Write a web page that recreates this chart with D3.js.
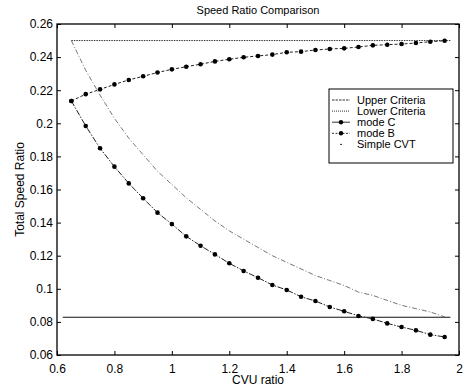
<!DOCTYPE html>
<html>
<head>
<meta charset="utf-8">
<script src="https://cdn.jsdelivr.net/npm/d3@7"></script>
<style>
  body { margin: 0; background: #fff; }
  svg { font-family: "Liberation Sans", Arial, sans-serif; }
</style>
</head>
<body>
<svg id="speed-chart" width="471" height="392"></svg>
<script>
// CVU ratio samples
const cvuRatio = [0.65, 0.7, 0.75, 0.8, 0.85, 0.9, 0.95, 1.0, 1.05, 1.1, 1.15, 1.2, 1.25, 1.3,
  1.35, 1.4, 1.45, 1.5, 1.55, 1.6, 1.65, 1.7, 1.75, 1.8, 1.85, 1.9, 1.95];

const modeC = [0.2135, 0.1984, 0.1849, 0.1738, 0.1637, 0.1547, 0.1460, 0.1391, 0.1317, 0.1260,
  0.1208, 0.1154, 0.1108, 0.1067, 0.1023, 0.0993, 0.0952, 0.0926, 0.0890, 0.0864, 0.0836,
  0.0818, 0.0791, 0.0769, 0.0749, 0.0723, 0.0709];

const modeB = [0.2135, 0.2176, 0.2205, 0.2235, 0.2262, 0.2284, 0.2307, 0.2326, 0.2342, 0.2357,
  0.2374, 0.2387, 0.2399, 0.2407, 0.2415, 0.2429, 0.2433, 0.2443, 0.2449, 0.2453, 0.2461,
  0.2471, 0.2475, 0.2479, 0.2485, 0.2493, 0.2499];

const simpleCVT = [0.250, 0.232, 0.217, 0.203, 0.191, 0.181, 0.171, 0.163, 0.155, 0.148,
  0.141, 0.135, 0.130, 0.125, 0.120, 0.116, 0.112, 0.108, 0.105, 0.102, 0.098,
  0.096, 0.093, 0.090, 0.088, 0.086, 0.083];

const upperCriteria = [[0.65, 0.25], [1.97, 0.25]];
const lowerCriteria = [[0.62, 0.0828], [1.97, 0.0828]];

const xTicks = [0.6, 0.8, 1, 1.2, 1.4, 1.6, 1.8, 2];
const yTicks = [0.06, 0.08, 0.1, 0.12, 0.14, 0.16, 0.18, 0.2, 0.22, 0.24, 0.26];

const legendNames = ['Upper Criteria', 'Lower Criteria', 'mode C', 'mode B', 'Simple CVT'];

const svg = d3.select('#speed-chart'),
  margin = {top: 24, right: 12, bottom: 37, left: 57},
  width = +svg.attr('width') - margin.left - margin.right,
  height = +svg.attr('height') - margin.top - margin.bottom;

const x = d3.scaleLinear().domain([0.6, 2]).range([0, width]);
const y = d3.scaleLinear().domain([0.06, 0.26]).range([height, 0]);

const g = svg.append('g')
  .attr('transform', 'translate(' + margin.left + ',' + margin.top + ')');

// matlab style axes: ticks pointing inwards on all four sides
const axisStyle = function(sel) {
  sel.select('.domain').remove();
  sel.selectAll('line').attr('stroke', '#000').attr('stroke-width', 1);
  sel.selectAll('text').attr('fill', '#000').style('font-size', '12px');
};

g.append('g')
  .attr('transform', 'translate(0,' + height + ')')
  .call(d3.axisBottom(x).tickValues(xTicks).tickSize(-4).tickPadding(9).tickFormat(d3.format('')))
  .call(axisStyle);
g.append('g')
  .call(d3.axisTop(x).tickValues(xTicks).tickSize(-4).tickFormat(''))
  .call(axisStyle);
g.append('g')
  .call(d3.axisLeft(y).tickValues(yTicks).tickSize(-4).tickPadding(4).tickFormat(d3.format('')))
  .call(axisStyle);
g.append('g')
  .attr('transform', 'translate(' + width + ',0)')
  .call(d3.axisRight(y).tickValues(yTicks).tickSize(-4).tickFormat(''))
  .call(axisStyle);

g.append('rect')
  .attr('width', width)
  .attr('height', height)
  .attr('fill', 'none')
  .attr('stroke', '#000')
  .attr('stroke-width', 1.3);

const line = d3.line()
  .x(function(d) { return x(d[0]); })
  .y(function(d) { return y(d[1]); });

const zip = function(vals) {
  return cvuRatio.map(function(c, i) { return [c, vals[i]]; });
};

// criteria lines
g.append('path')
  .datum(upperCriteria)
  .attr('fill', 'none')
  .attr('stroke', '#333')
  .attr('stroke-width', 1)
  .attr('stroke-dasharray', '1.5,1')
  .attr('d', line);
g.append('path')
  .datum(lowerCriteria)
  .attr('fill', 'none')
  .attr('stroke', '#111')
  .attr('stroke-width', 1.2)
  .attr('d', line);

// simple CVT
g.append('path')
  .datum(zip(simpleCVT))
  .attr('fill', 'none')
  .attr('stroke', '#666')
  .attr('stroke-width', 0.9)
  .attr('stroke-dasharray', '5,2,1,2')
  .attr('d', line);

// mode C
g.append('path')
  .datum(zip(modeC))
  .attr('fill', 'none')
  .attr('stroke', '#222')
  .attr('stroke-width', 1)
  .attr('stroke-dasharray', '6,1.5,1.5,1.5')
  .attr('d', line);
g.selectAll('.dot-c')
  .data(zip(modeC))
  .enter().append('circle')
  .attr('class', 'dot-c')
  .attr('cx', function(d) { return x(d[0]); })
  .attr('cy', function(d) { return y(d[1]); })
  .attr('r', 2.3)
  .attr('fill', '#000');

// mode B
g.append('path')
  .datum(zip(modeB))
  .attr('fill', 'none')
  .attr('stroke', '#222')
  .attr('stroke-width', 1)
  .attr('stroke-dasharray', '3,2')
  .attr('d', line);
g.selectAll('.dot-b')
  .data(zip(modeB))
  .enter().append('circle')
  .attr('class', 'dot-b')
  .attr('cx', function(d) { return x(d[0]); })
  .attr('cy', function(d) { return y(d[1]); })
  .attr('r', 2.3)
  .attr('fill', '#000');

// legend
const legend = g.append('g')
  .attr('transform', 'translate(' + (329 - margin.left) + ',' + (89 - margin.top) + ')');
legend.append('rect')
  .attr('width', 124)
  .attr('height', 74)
  .attr('fill', '#fff')
  .attr('stroke', '#000')
  .attr('stroke-width', 1);

const sampleDash = ['2.5,1', '1,1', null, '2,1.5', null];
legendNames.forEach(function(name, i) {
  const row = legend.append('g').attr('transform', 'translate(0,' + (11 + i * 11.1) + ')');
  if (i < 4) {
    row.append('line')
      .attr('x1', 3).attr('x2', 21)
      .attr('stroke', '#333')
      .attr('stroke-width', 1)
      .attr('stroke-dasharray', sampleDash[i]);
  }
  if (i === 2 || i === 3) {
    row.append('circle').attr('cx', 12).attr('r', 2.2).attr('fill', '#000');
  }
  if (i === 4) {
    row.append('line').attr('x1', 11).attr('x2', 13)
      .attr('stroke', '#333').attr('stroke-width', 1);
  }
  row.append('text')
    .attr('x', 28)
    .attr('dy', '0.35em')
    .style('font-size', '11px')
    .text(name);
});

svg.append('text')
  .attr('x', margin.left + width / 2)
  .attr('y', 14)
  .attr('text-anchor', 'middle')
  .style('font-size', '11px')
  .text('Speed Ratio Comparison');

svg.append('text')
  .attr('x', margin.left + width / 2)
  .attr('y', 384)
  .attr('text-anchor', 'middle')
  .style('font-size', '12px')
  .text('CVU ratio');

svg.append('text')
  .attr('transform', 'translate(24,' + (margin.top + height / 2) + ')rotate(-90)')
  .attr('text-anchor', 'middle')
  .style('font-size', '12px')
  .text('Total Speed Ratio');
</script>
</body>
</html>
